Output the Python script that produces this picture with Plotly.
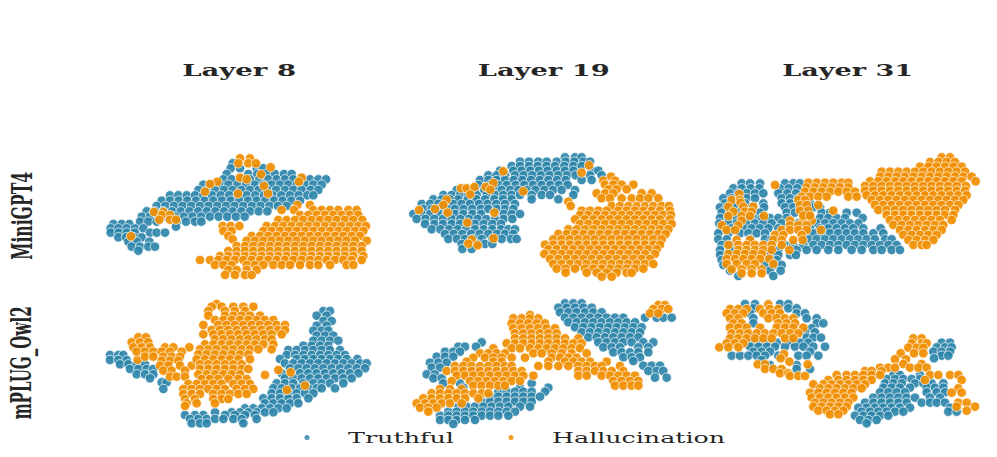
import plotly.graph_objects as go

# Each list: (y, [x, x, ...]) rows of embedding points
T_8_mini = [(40,[398]),(55,[392,420,470,490]),(72,[380,445,472,500,525,552,575]),
(88,[370,395,425,450,478,505,530,555,580,605,630,655,678]),
(104,[310,335,360,385,412,438,465,490,515,540,565,590,615,640,665]),
(120,[295,320,345,372,398,424,450,476,502,528,555,580,605,632,655]),
(136,[210,235,260,285,310,336,362,388,414,440,466,492,518,544,570,596,622,640]),
(152,[185,210,236,262,288,314,340,366,392,418,444,470,496,522,548,574,600]),
(168,[170,196,222,248,274,300,326,352,378,404,430,456,482,508,534,560]),
(184,[140,165,190,216,242,268,294,320,346,372,398,424,450,476,502]),
(200,[125,150,175,200,226,252,278,304,330,356,382,408,434]),
(215,[120,145,170,230,258,285,304]),(230,[228]),
(222,[40,65,88]),(235,[32,55,80,105,130]),(248,[32,56,80,104,150,170,195]),
(262,[55,78,102,125]),(275,[85,110,148]),(290,[95,120,145,165]),(302,[115])]
H_8_mini = [(25,[420,450]),(40,[415,445,468]),(52,[512]),(73,[483]),(83,[605,420]),(95,[597,352]),(88,[440]),
(102,[330]),(108,[492]),(125,[315]),(131,[414,504]),(186,[162,190]),(195,[186,210]),(209,[178,210,228]),(259,[93]),
(165,[592,630]),(180,[545,582,640,665,690,715,745,770]),(195,[600,625,650,675,700,725,750,775]),
(210,[535,560,585,610,635,660,685,710,735,760,787]),
(228,[368,392,418,500,525,550,575,600,625,650,675,700,725,750,775,798]),
(243,[370,395,490,515,540,565,590,615,640,665,690,715,740,765,790]),
(258,[385,455,480,505,530,555,580,605,630,655,680,705,730,755,780]),(268,[398]),
(272,[440,465,490,515,540,565,590,615,640,665,690,715,740,765,800]),
(288,[410,435,460,485,510,535,560,585,610,635,660,685,710,735,760,785]),
(303,[385,410,435,460,485,510,535,560,585,610,635,660,685,710,735,760,785]),
(318,[360,385,410,435,460,485,510,535,560,585,610,635,660,685,710,735,760,790]),
(330,[300,330,355,380,405,430,455,480,505,530,555,580,605,630,655,680,705,730,755,785]),
(345,[345,370,395,440,465,490,520,545,570,600,630,655,690,740,760]),
(360,[385,410,440,470]),(375,[375,405,435,455])]

T_19_mini = [(22,[480,510,530]),(35,[345,372,400,425,455,482,508,535,555]),(48,[320,345,372,398,425,450,478,505,530]),
(62,[285,325,350,376,402,428,455,480,505,560,580]),(76,[250,275,300,330,356,382,408,434,460,486,512,555,590]),
(90,[225,250,275,300,326,352,378,404,430,456,482,530,560]),(105,[220,255,280,305,332,358,384,410,436,462,488]),
(120,[155,180,210,238,265,290,316,340,365,392,418,444,470,510]),(135,[115,140,165,190,215,245,270,295,320,345,380,410,435,505]),
(148,[85,110,135,160,188,215,240,268,294,320,380,460]),(162,[50,75,100,122,145,170,195,222,248,274,300,330]),
(177,[55,80,105,128,150,176,202,228,250,276,300,325]),(192,[25,50,75,100,125,150,175,202,228,296,320,345]),
(207,[35,62,88,114,140,166,192,218,244,270,296,322]),(222,[60,88,114,140,165,187,210,236,262,288]),
(238,[80,106,132,158,184,210,236,262,288,310,330]),(252,[120,146,172,198,224,250,276,300,325]),
(267,[130,156,180,205,230,262,290,318,335]),(282,[170,215,240,262]),(297,[172,200])]
H_19_mini = [(46,[552]),(68,[530]),(64,[295]),(99,[265]),(115,[168,185]),(111,[208,242]),(119,[256]),(124,[355]),
(133,[196]),(149,[125]),(165,[115]),(177,[90]),(180,[42]),(188,[128,268]),(218,[187]),(265,[266]),(269,[200]),(281,[190]),(286,[218]),
(80,[618]),(92,[595,630]),(104,[600,625,650,685]),(118,[610,635,665]),(130,[575,600,625,710,740]),
(145,[590,615,650,680,705,730,760]),(155,[490]),(168,[497,620,645,670,695,720,745,770,792]),
(182,[530,555,580,605,640,665,690,715,740,765,795]),(195,[525,550,575,600,625,650,675,700,725,750,775,798]),
(208,[510,540,565,590,615,640,665,690,715,740,765,795]),(222,[525,550,575,600,625,650,675,700,725,750,775,800]),
(238,[490,515,540,565,590,615,640,665,690,715,740,765,790]),(252,[460,485,510,535,560,585,610,635,660,685,710,735,760,782]),
(268,[445,470,495,520,545,570,595,620,645,670,695,720,745,770]),(284,[420,445,470,495,520,545,570,595,620,645,670,695,720,745,765]),
(298,[430,455,480,505,530,555,580,605,630,655,680,705,730,755]),(312,[418,445,470,495,520,545,570,595,620,645,670,695,720,750]),
(327,[435,460,485,510,535,560,585,610,635,660,685,710,735]),(342,[445,470,495,520,545,570,595,620,645,670,695,720,745]),
(356,[455,482,510,540,565,590,615,640,665,690,715]),(368,[482,545,575,605,635,665,680]),(380,[590,620])]

T_31_mini = [(100,[95,120,150,225,250,270]),(115,[70,95,122,148,210,236,262]),(130,[60,85,110,135,160,205,232,258]),
(145,[40,65,90,110,135,215,240,265]),(160,[45,70,105,160,215,240,270,300]),(172,[30,50,75,100,125,162,225,250,285,310,330]),
(188,[35,60,85,125,150,230,255,285,335,360,410,440]),(204,[30,55,80,105,130,155,180,205,230,300,330,355,380,405,458]),
(220,[28,55,80,110,135,160,185,215,240,265,290,320,345,370,395,420,445]),(235,[35,65,100,125,150,175,205,300,330,355,380,405,430,460,512]),
(250,[25,55,90,115,140,165,310,335,360,385,410,435,460,490,520]),(268,[25,50,120,165,185,295,320,345,370,395,420,445,470,495,525,545]),
(285,[35,60,225,250,280,310,335,360,385,410,435,460,485,510,535,560]),(300,[30,60,175,205,260,290,320,355,385,425,455,490,515,545,570]),
(315,[30,180,205,240,258]),(330,[35,175,200]),(345,[40,165,195,215]),(362,[60,180,212]),(378,[85,190])]
H_31_mini = [(105,[195]),(132,[88]),(150,[65,90]),(158,[92]),(170,[55,100,130]),(185,[70,105,125]),(198,[55,95,120,162]),
(212,[95,240,280,305]),(226,[36,85,240,265,290]),(240,[50,75,215,240,265,290,333]),(255,[195,220,275]),
(270,[80,120,190,215,250,278]),(285,[55,85,110,135,160,185,215]),(300,[85,110,135,160,185,238]),(312,[55,80,105,130,155]),
(327,[50,75,100,125,150,178]),(342,[50,80,110,135,190]),(358,[65,95,125,155]),(370,[95,125,155]),
(98,[295,320,345,370,395,415]),(112,[290,315,340,365,390,415]),(125,[285,310,335,360,385,410,435]),(140,[275,300,325,350,415,440]),
(150,[265,285]),(165,[270,290,325]),(182,[270,295,370]),(197,[280,300]),
(22,[695,720]),(36,[660,685,710,735]),(50,[630,655,680,705,730,755]),(65,[515,540,565,590,615,640,665,690,715,740,765]),
(80,[510,535,560,585,610,635,660,685,710,735,760,785]),(94,[480,505,530,555,580,605,630,655,680,705,730,755,797]),
(108,[465,490,515,540,565,590,615,640,665,690,715,740,768]),(122,[465,490,515,540,565,590,615,640,665,690,715,740,765]),
(136,[470,495,520,545,570,595,620,645,670,695,720,745,770]),(150,[485,510,535,560,585,610,635,660,685,710,735,760]),
(165,[495,520,545,570,595,620,645,670,695,720,745]),(180,[505,530,555,580,605,630,655,680,705,735]),
(195,[530,555,580,605,630,655,680,705,730]),(210,[540,565,590,615,640,665,690,725]),(225,[550,575,600,625,650,675,700]),
(240,[570,595,620,645,670,695]),(255,[580,605,630,655,680]),(270,[595,620,645,670]),(285,[610,635,650])]

T_8_owl = [(180,[30,55,70]),(195,[30,55,80]),(208,[60,85,110,135]),(222,[90,115,140,160]),(238,[110,135,160]),(250,[150]),
(262,[185,200]),(282,[190]),(48,[670,690]),(62,[650,680]),(78,[670,695]),(92,[650,680]),(107,[640,665,685]),(122,[650,675,700]),
(137,[640,665,690,715]),(152,[610,635,660,685]),(165,[565,590,615,640,665,690,720]),(180,[560,585,610,635,660,685,710,735]),
(192,[540,590,615,640,665,690,715,740,772]),(205,[555,580,605,630,655,680,705,730,755,780,800]),
(220,[570,595,620,645,670,695,720,745,770,795]),(235,[545,600,625,650,675,700,725,750,775]),
(250,[555,580,605,630,655,680,705,730,755]),(265,[530,555,580,610,640,665,690,730]),(280,[520,545,575,600,625,650,665,705]),
(295,[515,540,565,590,615,640]),(310,[490,515,540,565,590,625]),(325,[495,520,545,570,595]),(340,[435,460,485,510,535,560]),
(352,[345,395,420,445,470,495,520]),(360,[255,285,310,375,405,435,465]),(372,[270,295,320,345,370,400,425,470]),(385,[275,300,320,430])]
H_8_owl = [(194,[113]),(225,[535]),(232,[572]),(240,[495]),(272,[615]),(285,[561]),
(127,[115,138]),(142,[95,120,145]),(157,[100,125,150,195,220,268]),(170,[110,135,160,185,210,245]),(185,[135,160,190,215,240]),
(197,[185,210,235]),(212,[180,205,240,275]),(227,[190,215,255]),(245,[210,230,255]),
(27,[350]),(35,[335,365,400,430,460]),(48,[325,375,405,435]),(62,[325,375,400,425,450,480]),(75,[345,370,395,420,445,470,495,520]),
(90,[310,355,380,405,430,455,480,505,530,555]),(105,[335,360,385,410,435,460,485,510,535,555]),
(118,[310,340,365,390,415,440,465,490,515,545]),(133,[345,370,395,420,445,470,495,515]),(148,[315,340,365,390,415,440,465,490,520]),
(163,[300,325,350,375,400,425,450,475,515]),(178,[295,320,345,370,395,420,445]),(193,[290,315,340,365,390,415,450]),
(208,[300,325,350,375,400,425]),(222,[300,325,350,375,400,425,445]),(238,[295,320,345,370,395,420]),(252,[305,330,355,385,415,440]),
(267,[265,290,315,340,365,400,425,450]),(282,[250,275,300,325,350,375,410,435,460]),(297,[250,275,300,340,365,390,415,440]),
(312,[255,285,340,365,385]),(325,[260,290,345]),(333,[255])]

T_19_owl = [(25,[480,505,530]),(38,[460,485,510,535,560]),(52,[465,490,515,540,565,590]),(68,[480,505,530,555,580,605,630,655,720,755,775,800]),
(82,[490,515,540,565,590,615,640,665,690]),(97,[510,535,560,585,610,635,660,685,710]),(112,[530,555,580,605,630,655,680,705]),
(127,[550,575,600,625,650,675,700]),(142,[580,605,630,655,680,715,745]),(157,[595,620,645,700,730]),(172,[625,650,675,700,730]),
(187,[655,680,705]),(198,[685]),(212,[715,740,765]),(228,[730,755,775]),(248,[750,785]),
(142,[230]),(155,[160,180,213]),(170,[120,145,165]),(185,[95,120,145]),(203,[75,100,125]),(218,[80,105]),(238,[65,90]),(250,[85,110]),
(265,[115,165,380]),(278,[175,345,430]),(290,[280,305,330,355,380,420]),(305,[255,280,305,330,355,380,405]),(320,[230,255,280,305,330,355,380]),
(335,[160,185,210,235,260,285,310,345,375]),(350,[130,155,180,205,230,255,280,305,330]),(362,[105,130,155,180,205,230,255,280,310]),
(375,[105,130,155,180,210]),(387,[145])]
H_19_owl = [(30,[760,780]),(42,[745,770,790]),(55,[735,760]),(60,[375]),(70,[325,350,375,400]),(85,[320,345,370,395,420]),
(100,[325,350,375,400,425,450]),(115,[330,355,380,405,430,455]),(130,[330,355,380,405,430,455,480,520]),
(145,[305,330,355,380,405,430,455,480,505,530]),(160,[265,320,345,375,400,425,450,475,500,525]),
(175,[225,250,275,300,385,410,440,470,500,545]),(188,[205,240,265,290,320,360,440,465,490,515]),(200,[185,265,290,430,480,505,530,555,605]),
(213,[150,175,200,225,250,275,300,320,400,430,460,490,520,545,570,590,645]),(228,[125,150,175,200,225,250,275,300,325,350,520,545,570,595,620,655]),
(242,[155,180,205,230,255,280,305,330,355,385,520,545,590,615,640,665,690]),(258,[140,195,220,245,270,295,320,345,625,650,675,700]),
(272,[205,230,255,280,300,630,655,680,700]),(282,[105,135,170]),(295,[80,105,130,155,180,205,230,250]),
(310,[55,80,105,130,155,180,220]),(325,[35,60,85,110,135,170]),(338,[45,70,95]),(350,[70])]

T_31_owl = [(27,[105,135,210,235]),(40,[130,235,260]),(55,[120,260,285]),(70,[130,290,320]),(85,[130,320,340]),(100,[305]),(112,[285,315]),
(128,[290,310,333]),(143,[125,150,175,200,245,270,295]),(155,[120,145,170,195,225,255,280,310,345]),(170,[130,155,180,300]),
(182,[65,90,115,140,165,205,265,290,325]),(195,[155]),(210,[180,260]),(222,[260,300]),
(143,[695,720]),(157,[680,705,725]),(170,[670,695,720]),(182,[695,715]),(190,[672]),(240,[550,570,630]),(252,[530,555,580,605,630]),
(265,[525,550,575,615,640,665,700]),(278,[520,545,570,600,650,675,700]),(292,[510,535,560,585,650,680,705]),
(308,[490,515,540,565,590,615,660,690]),(323,[465,490,515,540,565,590,635,660,680,705]),(338,[445,470,495,520,545,570,600,720]),
(350,[455,480,505,530,555,580,715,740]),(362,[435,460,485,510,535]),(375,[450,475,500]),(385,[470])]
H_31_owl = [(28,[175]),(42,[60,85,110,150,180,205]),(55,[50,75,100,160,185,210]),(70,[60,85,175,200,225,250]),(85,[70,95,205,230,255]),
(98,[60,85,110,150,200,225,250,280]),(115,[65,90,115,140,165,190,215,240,265]),(130,[60,85,110,135,160,185,225,250]),(145,[50,75,100]),
(157,[28,55,85]),(177,[222]),(190,[212]),(200,[238]),(208,[143,165,293]),(222,[165,190,215]),(235,[210,235]),(243,[240,265,285]),
(130,[610,635]),(145,[605,635,650]),(158,[595,620,640]),(175,[572,612,640]),(193,[555,588]),(207,[580,635]),(218,[510,535,555,600,625,650]),
(228,[465,485,515]),(240,[380,410,435,460,485,510,660,685,720,745]),(255,[355,385,410,435,460,485,645,755]),(268,[310,340,365,390,415,440,465]),
(280,[330,355,380,405,430,455,745]),(293,[300,325,350,375,400,425,725,755]),(308,[305,330,355,380,405,430]),(323,[315,340,365,390,415,745,770]),
(335,[310,335,360,385,410,740,795]),(347,[325,350,375,400,770]),(358,[360,385])]

titles = ["Layer 8", "Layer 19", "Layer 31"]
row_labels = ["MiniGPT4", "mPLUG_Owl2"]
series_names = ["Truthful", "Hallucination"]
BLUE, ORANGE = "#2E86AB", "#F18F01"

panels = [[(T_8_mini, H_8_mini), (T_19_mini, H_19_mini), (T_31_mini, H_31_mini)],
          [(T_8_owl, H_8_owl), (T_19_owl, H_19_owl), (T_31_owl, H_31_owl)]]

W, H = 997, 457
col_px = [100, 405, 710]
row_px = [150, 295]
PW, PH = 280, 135

def xy(rows):
    xs, ys = [], []
    for y, row in rows:
        for x in row:
            xs.append(x); ys.append(y)
    return xs, ys

fig = go.Figure()
layout = {}
n = 0
for r, row in enumerate(panels):
    for c, (t, h) in enumerate(row):
        n += 1
        sx = "" if n == 1 else str(n)
        for rows, col, name in ((t, BLUE, series_names[0]), (h, ORANGE, series_names[1])):
            xs, ys = xy(rows)
            fig.add_trace(go.Scatter(x=xs, y=ys, xaxis="x" + sx, yaxis="y" + sx, mode="markers", name=name,
                                     showlegend=False, hoverinfo="skip",
                                     marker=dict(color=col, size=9.5, opacity=0.92, line=dict(color="rgba(255,255,255,0.75)", width=1))))
        layout["xaxis" + sx] = dict(domain=[col_px[c] / W, (col_px[c] + PW) / W], range=[0, 840], visible=False)
        layout["yaxis" + sx] = dict(domain=[1 - (row_px[r] + PH) / H, 1 - row_px[r] / H], range=[405, 0], visible=False)

for name, col in zip(series_names, (BLUE, ORANGE)):
    fig.add_trace(go.Scatter(x=[None], y=[None], mode="markers", name=name, marker=dict(color=col, size=5, opacity=0.85)))

ann = []
for title, cx in zip(titles, (239, 543, 847)):
    ann.append(dict(text=title, x=cx / W, y=1 - 70 / H, xref="paper", yref="paper", showarrow=False, xanchor="center", yanchor="middle",
                    font=dict(family="DejaVu Serif", size=16, color="#262626", weight="bold")))
for label, cy in zip(row_labels, (216, 363)):
    ann.append(dict(text=label, x=22 / W, y=1 - cy / H, xref="paper", yref="paper", showarrow=False, textangle=-90, xanchor="center", yanchor="middle",
                    font=dict(family="DejaVu Serif", size=27, color="#262626", weight="bold")))

fig.update_layout(width=W, height=H, margin=dict(l=0, r=0, t=0, b=0), paper_bgcolor="white", plot_bgcolor="white",
                  annotations=ann, font=dict(family="DejaVu Serif", size=14, color="#262626"),
                  legend=dict(orientation="h", x=266 / W, y=1 - 438 / H, xanchor="left", yanchor="middle", itemwidth=72,
                              entrywidth=117, entrywidthmode="pixels", bgcolor="rgba(0,0,0,0)"),
                  **layout)

stretch = """
document.body.style.margin='0';
var L={'Layer 8':114,'Layer 19':132,'Layer 31':131,'MiniGPT4':88,'mPLUG_Owl2':113,'Truthful':106,'Hallucination':173};
document.querySelectorAll('svg text').forEach(function(t){var k=t.textContent;if(L[k]){t.setAttribute('textLength',L[k]);t.setAttribute('lengthAdjust','spacingAndGlyphs');}});
document.querySelectorAll('svg .legend, svg .legend *').forEach(function(e){e.removeAttribute('clip-path');e.style.clipPath='none';});
"""
fig.write_html("out.html", post_script=stretch, config=dict(displayModeBar=False))
